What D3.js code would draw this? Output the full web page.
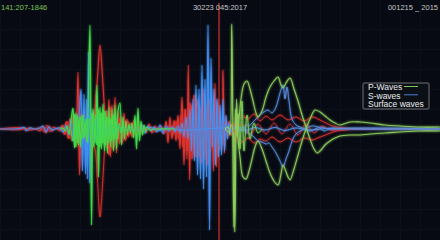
<!DOCTYPE html>
<html>
<head>
<meta charset="utf-8">
<script src="https://cdn.jsdelivr.net/npm/d3@7"></script>
<style>
  html, body { margin: 0; padding: 0; background: #070a12; }
  #chart { width: 440px; height: 240px; }
  .label { font-family: "Liberation Sans", Arial, sans-serif; font-size: 7.5px; }
  .legend-text { font-family: "Liberation Sans", Arial, sans-serif; font-size: 8.5px; fill: #ececec; }
</style>
</head>
<body>
<div id="chart"></div>
<script>
// chart static params
const chart_width = 440;
const chart_height = 240;

// time in 0.1 s units, amplitude in counts
const timeDomain = [0, 440];
const ampDomain = [-105, 105];
const eventTime = 219;

// header labels
const stationLabel = '141:207-1846';
const eventLabel = '30223 045:2017';
const dateLabel = '001215 _ 2015';

// legend
const legendNames = ['P-Waves', 'S-waves', 'Surface waves'];

// ---- P-waves (green) ----
const pBurst = [[60,0],[63,1],[65,-2],[67,3],[69,-5],[71,8],[73,21],[74.5,-19],[76,16],[77.5,-14],[79,12],[80.5,-18],
  [82,14],[83.5,-10],[85,8],[86.5,-12],[88,18],[90,104],[91.5,-96],[93,20],[95,-14],[97,44],[98.5,-48],[100,22],
  [101.5,-20],[103,25],[104.5,-22],[106,18],[107.5,-24],[109,22],[110.5,-18],[112,20],[113.5,-22],[115,24],
  [116.5,-20],[118,18],[120,26],[121.5,-16],[123,12],[124.5,-10],[126,8],[127.5,-6],[129,5],[130.5,-4],[132,6],
  [133.5,-9],[135,14],[136.5,-20],[138,21],[139.5,-12],[141,8],[142.5,-6],[144,4],[145.5,-3],[147,2],[150,-1],
  [155,0],[175,0]];
const pBurst2 = [[71,0],[72.75,-12],[74.25,15],[75.75,-18],[77.25,14],[78.75,-16],[80.25,12],[81.75,-10],[83.25,14],
  [84.75,-8],[86.25,10],[87.75,-14],[89.25,10],[90.75,-12],[92.25,16],[93.75,-18],[95.25,14],[96.75,-16],
  [98.25,20],[99.75,-18],[101.25,16],[102.75,-14],[104.25,18],[105.75,-16],[107.25,12],[108.75,-14],[110.25,10],
  [111.75,-12],[113.25,14],[114.75,-10],[116.25,8],[117.75,-10],[119.25,6],[120.75,-4],[122.25,3],[123.75,-2],[126,0]];
const pUpper = [[225,0],[228,2],[230,-6],[231.8,105],[233.8,-98],[235.5,20],[237,-8],[239,10],[241,30],[244,45],
  [247,48],[250,40],[253,28],[256,16],[258,12],[262,18],[266,32],[270,42],[274,48],[278,52],[281,44],[283,41],
  [286,46],[290,51],[294,40],[298,28],[302,14],[306,2],[310,-10],[314,-20],[317,-24],[320,-22],[325,-16],
  [330,-12],[335,-9],[340,-7],[350,-6],[360,-6],[370,-5],[385,-4],[400,-3],[420,-2],[440,-2]];
const pLower = [[225,0],[229,-3],[231,4],[233,-2],[234.8,-103],[236.5,30],[238,-10],[240,-28],[243,-48],[246,-50],
  [249,-42],[252,-30],[255,-18],[258,-12],[262,-20],[266,-32],[270,-44],[274,-52],[278,-56],[281,-45],[283,-36],
  [285,-40],[288,-48],[290,-51],[294,-40],[298,-26],[302,-12],[306,0],[310,10],[315,19],[320,17],[325,13],
  [330,9],[335,6],[340,4],[350,7],[360,7],[370,6],[385,4],[400,3],[420,2],[440,2]];
const pCoda = [[236,0],[238,15],[240,-20],[242,28],[244,-22],[247,14],[250,-10],[254,6],[258,-4],[262,0]];

// ---- S-waves (blue) ----
const sEarly = [[0,0],[20,0.5],[24,1.5],[27,-1.5],[30,1],[35,0],[40,1],[43,3],[46,-3],[49,2],[52,-1],[55,0],[60,1],
  [63,-3],[66,4],[69,-6],[71,10],[73,-12],[75,14],[77,-10],[79,8],[81,40],[82.5,-42],[84,35],[85.5,-45],[86.5,30],
  [87.4,-50],[88.4,77],[89.6,-54],[91,20],[92.5,-14],[94,10],[95.5,-12],[97,14],[98.5,-10],[100,8],[101.5,-12],
  [103,10],[104.5,-8],[106,12],[107.5,-10],[109,8],[110.5,-6],[112,10],[113.5,-8],[115,6],[117,-5],[119,4],
  [121,-3],[124,2],[127,-2],[130,3],[133,-3],[136,2],[139,-2],[142,4],[145,-4],[148,3],[151,-2],[154,2],[157,-3],
  [160,4],[163,-4],[166,3],[169,-2],[172,2],[175,-3]];
const sMain = [[175,-3],[178,3],[180,-4],[182,6],[184,-8],[186,12],[188,-10],[190,20],[191.5,-22],[193,30],
  [194.5,-32],[196,44],[197.5,-46],[199,40],[200.5,-50],[202,64],[203.5,-60],[205,50],[206.5,-48],[208,104],
  [209.5,-101],[211,71],[212.5,-18],[214,40],[215.5,-36],[217,30],[218.5,-28],[220,24],[221.5,-26],[223,30],
  [224.5,-22],[226,14],[227.5,-10],[229,6],[231,-4],[233,3],[236,0]];
const sUpper = [[236,0],[240,2],[243,-2],[246,4],[249,3],[252,6],[256,10],[260,14],[264,17],[268,19],[272,16],
  [276,22],[280,36],[283,44],[285,30],[287,42],[289,28],[292,10],[296,4],[300,2],[305,0],[310,-2],[315,0],
  [320,2],[325,1],[330,0],[350,0],[440,0]];
const sLower = [[236,0],[240,-2],[243,2],[246,-3],[250,-5],[254,-8],[258,-12],[262,-13],[266,-15],[269,-14],
  [272,-18],[276,-24],[280,-32],[283,-38],[286,-30],[289,-22],[292,-12],[296,-5],[300,-2],[305,0],[312,3],
  [318,2],[324,-2],[330,0],[440,0]];
const sBase = [[140,0],[150,1.5],[160,-1.5],[170,1],[180,-1],[230,1],[245,-1.5],[255,1.5],[265,-1],[275,1.5],
  [285,-1.5],[295,1],[310,-1],[330,0.8],[360,0],[440,0]];

// ---- Surface waves (red) ----
const rEarly = [[0,0],[20,-0.5],[25,1],[30,-1],[36,0],[40,-2],[43,3],[46,-4],[49,3],[52,-2],[56,1],[60,-2],[62,3],
  [64,-5],[66,7],[68,-9],[70,10],[72,-12],[74,14],[76,-18],[78,57],[79.5,-46],[81,16],[82.5,-12],[84,20],
  [85.5,-16],[87,12],[89,-10],[91,14],[93,-18],[95,20],[97.5,52],[100,84],[102.5,52],[105,10],[107,-20],[109,30],
  [110.5,-28],[112,24],[113.5,-20],[115,32],[116.5,-24],[118,18],[119.5,-15],[121,12],[122.5,-14],[124,16],
  [125.5,-12],[127,10],[128.5,-8],[130,6],[132,-8],[134,9],[136,-6],[138,5],[140,-4],[143,3],[146,-4],[149,5],
  [152,-4],[155,3],[158,-2],[161,3],[164,-5],[166,8],[168,-14],[170,12],[172,-10],[174,9],[176,-12],[178,14],
  [180,-20],[182,32],[184,-36],[185.5,20],[187,-30],[188.3,64],[189.6,-51],[191,24],[192.5,-20],[194,18],
  [195.5,-16],[197,30],[198.5,-28],[200,22],[201.5,-34],[203,40],[204.5,-30],[206,26],[207.5,-36],[209,30],
  [210.5,-24],[212,20],[213.5,-42],[215,46],[216.5,-38],[218,30],[220,-20],[221.5,-18],[223,59],[224.5,-24],
  [226,12],[227.5,-10],[229,8],[231,-6],[233,5],[236,-4],[239,6]];
const rMirror = [[0,0],[22,1],[26,-2],[29,1.5],[33,0],[41,1],[44,-3],[47,4],[50,-3],[53,2],[58,0],[63,4],[65,-6],
  [67,8],[69,-10],[72,12],[75,-14],[77,10],[80,-8],[83,12],[86,-14],[89,10],[92,-12],[95,-20],[97.5,-52],
  [100,-88],[102.5,-56],[105,-12],[107,18],[109,-26],[111,22],[113,-20],[115,14],[117,-12],[119,10],[121,-8],
  [123,6],[126,-10],[128,8],[131,-6],[134,4],[137,-3],[140,2],[145,-2],[150,3],[155,-3],[160,2],[165,-3],
  [170,4],[173,-6],[176,8],[179,-10],[181,14],[183,-18],[185,20],[187,-22],[190,26],[192,-30],[194,34],
  [196,-28],[198,24],[201,-26],[203,20],[205,-18],[208,16],[211,-14],[214,20],[217,-22],[220,12],[222,-10],
  [224,8],[227,-6],[230,5],[233,-4],[236,0]];
const rUpper = [[225,0],[229,6],[232,-4],[236,8],[242,13],[248,10],[254,15],[260,8],[266,13],[272,9],[280,14],
  [288,9],[296,12],[304,8],[312,12],[320,9],[328,5],[336,2],[345,1],[360,0],[440,0]];
const rLower = [[225,0],[229,-6],[232,5],[236,-10],[242,-13],[248,-9],[254,-14],[260,-10],[266,-12],[272,-8],
  [280,-13],[288,-9],[296,-13],[304,-9],[312,-11],[320,-8],[328,-5],[336,-2],[345,-1],[360,0],[440,0]];
const rCross = [[236,0],[242,5],[250,-6],[258,5],[266,-5],[274,6],[282,-5],[290,5],[298,-6],[306,5],[314,-4],
  [322,3],[330,-1],[340,0]];

// draw order: surface waves, then S, then P
const traces = [
  {data: rMirror, color: '#d8302c', width: 1},
  {data: rEarly, color: '#e33530', width: 1.1},
  {data: rUpper, color: '#d9302e', width: 1},
  {data: rLower, color: '#d9302e', width: 1},
  {data: rCross, color: '#c83036', width: 0.9},
  {data: sBase, color: '#4f9af5', width: 1},
  {data: sEarly, color: '#3f8ff2', width: 1.2},
  {data: sMain, color: '#4291f4', width: 1.2},
  {data: sUpper, color: '#5a8fe0', width: 1},
  {data: sLower, color: '#5a8fe0', width: 1},
  {data: pBurst2, color: '#3fdc48', width: 1},
  {data: pBurst, color: '#44dc4c', width: 1.2},
  {data: pCoda, color: '#7ed25a', width: 1},
  {data: pUpper, color: '#8ccf5c', width: 1.1},
  {data: pLower, color: '#8ccf5c', width: 1.1}
];
const legendColors = ['#7cc85a', '#4a7fd8', null];

// scales
const xScale = d3.scaleLinear().domain(timeDomain).range([0, chart_width]);
const yScale = d3.scaleLinear().domain(ampDomain).range([234, 24]);

const svg = d3.select('#chart').append('svg')
    .attr('width', chart_width)
    .attr('height', chart_height);

svg.append('rect').attr('width', chart_width).attr('height', chart_height).attr('fill', '#070a12');

// glow filter
const glow = svg.append('defs').append('filter').attr('id', 'glow')
    .attr('x', '-10%').attr('y', '-10%').attr('width', '120%').attr('height', '120%');
glow.append('feGaussianBlur').attr('stdDeviation', 1.1).attr('result', 'blur');
const merge = glow.append('feMerge');
merge.append('feMergeNode').attr('in', 'blur');
merge.append('feMergeNode').attr('in', 'SourceGraphic');

// faint grid
const grid = svg.append('g').attr('stroke', '#0b111b').attr('stroke-width', 1);
grid.selectAll('line.v').data(xScale.ticks(20)).join('line')
    .attr('x1', d => xScale(d) + 0.5).attr('x2', d => xScale(d) + 0.5)
    .attr('y1', 0).attr('y2', chart_height);
grid.selectAll('line.h').data(yScale.ticks(10)).join('line')
    .attr('y1', d => Math.round(yScale(d)) + 0.5).attr('y2', d => Math.round(yScale(d)) + 0.5)
    .attr('x1', 0).attr('x2', chart_width);

// event marker
svg.append('line')
    .attr('x1', xScale(eventTime)).attr('x2', xScale(eventTime))
    .attr('y1', 3).attr('y2', chart_height)
    .attr('stroke', '#c4302b').attr('stroke-width', 1.3);

// waves
const line = d3.line()
    .x(d => xScale(d[0]))
    .y(d => yScale(d[1]))
    .curve(d3.curveCatmullRom.alpha(0.5));

const waves = svg.append('g').attr('filter', 'url(#glow)');
waves.selectAll('path').data(traces).join('path')
    .attr('d', d => line(d.data))
    .attr('fill', 'none')
    .attr('stroke', d => d.color)
    .attr('stroke-width', d => d.width)
    .attr('stroke-opacity', 0.95);

// header labels
svg.append('text').attr('class', 'label').attr('x', 1).attr('y', 10)
    .attr('fill', '#7ec85a').text(stationLabel);
svg.append('text').attr('class', 'label').attr('x', 220).attr('y', 10)
    .attr('text-anchor', 'middle').attr('fill', '#c9c9c9').text(eventLabel);
svg.append('text').attr('class', 'label').attr('x', 438).attr('y', 10)
    .attr('text-anchor', 'end').attr('fill', '#c9c9c9').text(dateLabel);

// legend
const legend = svg.append('g').attr('transform', 'translate(363,83)');
legend.append('rect').attr('width', 66).attr('height', 26)
    .attr('fill', '#0c0f17').attr('fill-opacity', 0.9)
    .attr('stroke', '#8a8a8a').attr('stroke-width', 0.8).attr('rx', 1);
legendNames.forEach((name, i) => {
  legend.append('text').attr('class', 'legend-text')
      .attr('x', 5).attr('y', 7 + i * 8.5).text(name);
  if (legendColors[i]) {
    legend.append('line')
        .attr('x1', 41).attr('x2', 55)
        .attr('y1', 3.5 + i * 8.3).attr('y2', 3.5 + i * 8.3)
        .attr('stroke', legendColors[i]).attr('stroke-width', 1);
  }
});
</script>
</body>
</html>
